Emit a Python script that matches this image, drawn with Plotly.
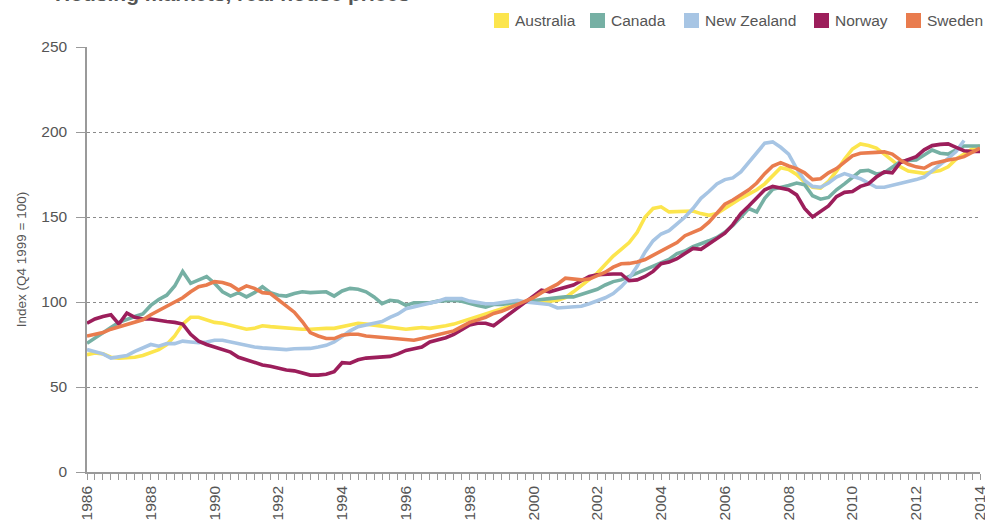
import plotly.graph_objects as go

# Quarterly data, 1986 Q1 .. 2014 Q1 (index Q4 1999 = 100)
start_year = 1986

australia = [
    69, 70, 69.5, 67.5, 67, 67, 67.5, 68.5, 70, 72, 75, 80, 87, 91, 91, 89.5, 88, 87.5, 86.5, 85,
    84, 84.5, 86, 85.5, 85, 84.5, 84.5, 84, 84,
    84.5, 84.5, 84.5, 85.5, 86.5, 87.5, 87, 86.5, 86, 85, 84.5, 84, 84.5, 85, 84.5, 85, 86, 87,
    88.5, 90.5, 92, 93, 94.5, 96, 98, 99, 100,
    100, 100, 100.5, 101, 102.5, 106, 109.5, 113, 117, 122, 127, 131, 135, 141, 150, 155, 156,
    153, 153, 153.5, 153.5, 152, 151, 152, 155, 158.5, 161, 163.5, 166,
    169.5, 174, 179, 178, 175, 170.5, 167.5, 167, 171, 177, 184, 190, 193, 192, 190.5, 187, 183,
    179.5, 177, 176.5, 175.7, 176.5, 177.3, 179.5, 184, 187, 190, 192,
]

canada = [
    75.7, 79, 82, 85, 88, 90, 91.5, 93, 98, 101.5, 104, 109.4, 118, 111, 113, 115, 111, 106, 103.5,
    105.5, 103, 105.5, 109, 105.5, 104, 103.5, 105, 106, 105.5,
    106, 106, 103.5, 106.5, 108, 107.5, 106, 103, 99, 101, 100.5, 98, 99.5, 99.5, 99.5, 100.5, 101,
    101, 100.5, 99, 98, 97, 98.5, 98.5, 99.5, 100, 100,
    101, 101.5, 102, 102.7, 103, 103, 104.5, 106, 107.5, 110, 112, 113, 115, 117.5, 119, 121, 123,
    125, 128.5, 130, 132.5, 134, 136, 138, 141, 145, 150, 155, 153,
    161, 166.3, 167.2, 168.5, 170, 169, 162.5, 160.5, 161.5, 166, 169.5, 173.5, 177, 177.5, 175.3,
    176, 179.5, 182.5, 183.3, 183.5, 186.5, 189.4, 187.5, 187, 189.5, 191.8, 191.8, 191.8,
]

new_zealand = [
    72, 71, 69.5, 67, 67.5, 68.5, 71, 73, 75, 74, 75.5, 75.5, 77, 76.5, 76, 76.5, 77.5, 77.5, 76.5,
    75.5, 74, 73.5, 73, 72.7, 72.5, 72, 72.5, 72.7, 72.7,
    73.5, 74.5, 76.5, 80, 83, 85.5, 86.5, 87.5, 88.5, 91, 93, 96, 97, 98, 99.5, 100.5, 102, 102,
    102, 100.5, 99.5, 99, 99, 99.5, 100.5, 101, 100,
    99.5, 99, 98.5, 96.5, 97, 97.5, 97.5, 99, 100.5, 102.5, 105, 109, 114, 121, 129.5, 136, 140,
    142, 146, 150, 155, 161, 165, 169.5, 172, 173, 176.5, 182, 188,
    193.4, 194.2, 191, 187, 178.5, 171.5, 168, 167.5, 170, 173.5, 175.5, 174, 172.5, 170, 167.5,
    167.5, 168.5, 169.8, 171, 172, 173.5, 177, 181, 184.5, 188.5, 195,
]

norway = [
    87.5, 90, 91.5, 92.5, 87, 93.5, 91, 90, 90, 89, 88.5, 88, 87, 81, 77, 75, 73.5, 72.5, 70.5,
    67.5, 66, 64, 63, 62.2, 61, 60, 59.5, 58, 57,
    57, 57.5, 59, 64.3, 64, 66, 67, 67.5, 68, 68, 69.5, 71.5, 72.5, 73.5, 76.5, 77.5, 79, 81,
    83.5, 86.5, 87.5, 87.5, 86, 89.5, 93, 96, 100,
    103, 107, 106, 107.5, 108.5, 110, 112.5, 115, 116, 116.5, 116.5, 116.5, 112.5, 113, 115, 118,
    122.5, 123.5, 125.5, 128.5, 131.5, 131, 134, 137, 140.5, 145.5, 152, 156.5, 161.5,
    166, 168, 167, 166, 163, 155, 150, 153, 156.5, 162, 164.5, 165, 168, 169.5, 173.5, 176.5,
    176, 182, 183.5, 185.5, 189.5, 192, 192.7, 193, 191, 189, 188.5, 188.5,
]

sweden = [
    80, 81, 82, 84, 85.5, 86.5, 88, 89.5, 92.5, 95, 98, 100.5, 102.5, 106, 109, 110, 112, 111.5,
    110, 107, 109.5, 108, 105.5, 105, 101.5, 98, 94, 88.5, 82,
    80, 78.5, 78.5, 80.5, 81, 81, 80, 79.5, 79, 78.5, 78, 78, 77.5, 78.5, 79.5, 80.5, 81.5, 83,
    85.5, 88, 89.5, 91, 93.3, 94.5, 96.5, 98.5, 100,
    102.5, 105.5, 108, 110.5, 114, 113.5, 113, 113.5, 115.5, 117.5, 120.5, 122.5, 122.7, 123.5,
    125, 127.5, 130.5, 133, 135, 139, 141, 143, 147, 152, 157.5, 160, 163, 166, 170,
    175.5, 180, 182, 180, 178.5, 176, 172, 172.5, 176, 178.5, 182.5, 186, 187.5, 187.5, 188,
    188.3, 187, 183.5, 181, 179.5, 178.7, 181.3, 182.5, 183.5, 184.3, 185.5, 188, 190.5,
]

series_names = ["Australia", "Canada", "New Zealand", "Norway", "Sweden"]
series_values = [australia, canada, new_zealand, norway, sweden]
series_colors = ["#FCE54D", "#76B0A4", "#A7C5E4", "#9C1E5B", "#E97C4E"]

tick_years = list(range(1986, 2015, 2))
tick_labels = [str(y) for y in tick_years]

# ---- layout geometry (pixels) ----
W, H = 985, 523
ML, MR, MT, MB = 87, 5, 47, 51
PW, PH = W - ML - MR, H - MT - MB


def px_x(p):
    return (p - ML) / PW


def px_y(p):
    return (H - MB - p) / PH


# legend swatch left edges (px) – a hand-built legend row above the plot
legend_swatch_left = [494, 590, 684, 814, 906]
SW = 15
legend_top, legend_mid = 13, 21

fig = go.Figure()

for name, vals, col in zip(series_names, series_values, series_colors):
    xs = [start_year + i / 4 for i in range(len(vals))]
    fig.add_trace(go.Scatter(
        x=xs, y=vals, mode="lines", name=name,
        line=dict(color=col, width=3.6), showlegend=False,
    ))

grey = "#555555"
axis_col = "#9a9a9a"

shapes = []
annotations = []
for name, col, left in zip(series_names, series_colors, legend_swatch_left):
    shapes.append(dict(
        type="rect", xref="paper", yref="paper",
        x0=px_x(left), x1=px_x(left + SW), y0=px_y(legend_top + SW), y1=px_y(legend_top),
        fillcolor=col, line=dict(width=0), layer="above",
    ))
    annotations.append(dict(
        text=name, xref="paper", yref="paper", x=px_x(left + SW + 4), xanchor="left",
        y=px_y(legend_mid), yanchor="middle", showarrow=False,
        font=dict(size=15.5, color=grey),
    ))

annotations.append(dict(
    text="<b>Housing markets, real house prices</b>",
    xref="paper", yref="paper", x=-0.038, xanchor="left",
    y=1.094, yanchor="bottom", showarrow=False,
    font=dict(size=21, color=grey),
))

fig.update_layout(
    width=W, height=H,
    margin=dict(l=ML, r=MR, t=MT, b=MB, autoexpand=False),
    paper_bgcolor="white", plot_bgcolor="white",
    font=dict(family="Liberation Sans, Arial, sans-serif", size=15.5, color=grey),
    showlegend=False,
    xaxis=dict(
        range=[1986, 2014], tickvals=tick_years, ticktext=tick_labels,
        tickangle=-90, ticks="outside", ticklen=6, tickcolor=axis_col, tickwidth=1,
        minor=dict(dtick=0.25, tick0=1986, ticks="outside", ticklen=6,
                   tickcolor=axis_col, showgrid=False),
        showline=True, linecolor=axis_col, linewidth=1.5,
        showgrid=False, zeroline=False, automargin=False,
        ticklabeloverflow="allow",
        tickfont=dict(size=15.5, color=grey),
    ),
    yaxis=dict(
        range=[0, 250], dtick=50, tick0=0, ticks="outside", ticklen=9,
        tickcolor=axis_col, showline=True, linecolor=axis_col, linewidth=1.5,
        showgrid=True, gridcolor="#8a8a8a", griddash="dot", gridwidth=1,
        zeroline=False, automargin=False, ticklabelstandoff=6,
        tickfont=dict(size=15.5, color=grey),
        title=dict(text="Index (Q4 1999 = 100)", font=dict(size=13.5, color=grey), standoff=12),
    ),
    shapes=shapes,
    annotations=annotations,
)

fig.write_html("out.html", config={"displayModeBar": False},
               post_script="document.body.style.margin='0';")
